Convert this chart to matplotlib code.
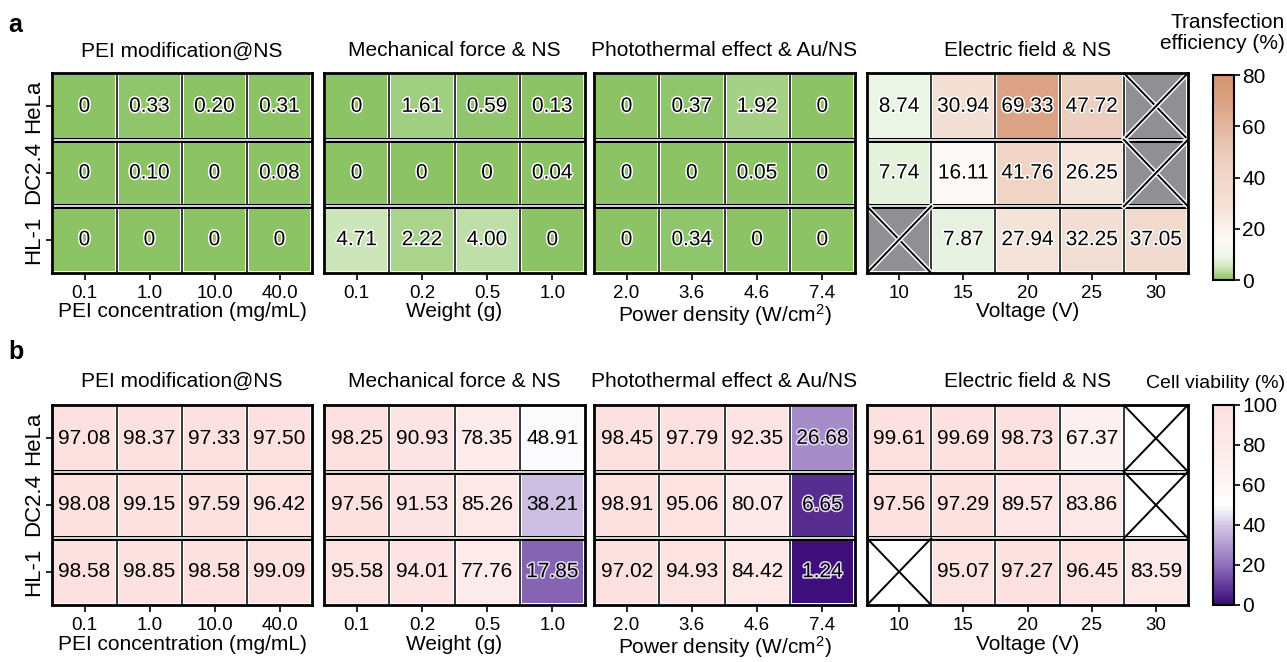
import numpy as np
import matplotlib
matplotlib.use('Agg')
import matplotlib.pyplot as plt
import matplotlib.patheffects as pe
from matplotlib.colors import LinearSegmentedColormap

matplotlib.rcParams['font.family'] = ['Liberation Sans', 'DejaVu Sans']
matplotlib.rcParams['mathtext.fontset'] = 'custom'
matplotlib.rcParams['mathtext.rm'] = 'Liberation Sans'
matplotlib.rcParams['mathtext.it'] = 'Liberation Sans'

nan = np.nan
cells = ['HeLa', 'DC2.4', 'HL-1']
titles = ['PEI modification@NS', 'Mechanical force & NS',
          'Photothermal effect & Au/NS', 'Electric field & NS']
xlabels = ['PEI concentration (mg/mL)', 'Weight (g)',
           'Power density (W/cm$^{2}$)', 'Voltage (V)']
xticks = [['0.1', '1.0', '10.0', '40.0'],
          ['0.1', '0.2', '0.5', '1.0'],
          ['2.0', '3.6', '4.6', '7.4'],
          ['10', '15', '20', '25', '30']]

# transfection efficiency (%)
te_pei = [[0, 0.33, 0.20, 0.31], [0, 0.10, 0, 0.08], [0, 0, 0, 0]]
te_mech = [[0, 1.61, 0.59, 0.13], [0, 0, 0, 0.04], [4.71, 2.22, 4.00, 0]]
te_photo = [[0, 0.37, 1.92, 0], [0, 0, 0.05, 0], [0, 0.34, 0, 0]]
te_elec = [[8.74, 30.94, 69.33, 47.72, nan],
           [7.74, 16.11, 41.76, 26.25, nan],
           [nan, 7.87, 27.94, 32.25, 37.05]]

# cell viability (%)
cv_pei = [[97.08, 98.37, 97.33, 97.50], [98.08, 99.15, 97.59, 96.42],
          [98.58, 98.85, 98.58, 99.09]]
cv_mech = [[98.25, 90.93, 78.35, 48.91], [97.56, 91.53, 85.26, 38.21],
           [95.58, 94.01, 77.76, 17.85]]
cv_photo = [[98.45, 97.79, 92.35, 26.68], [98.91, 95.06, 80.07, 6.65],
            [97.02, 94.93, 84.42, 1.24]]
cv_elec = [[99.61, 99.69, 98.73, 67.37, nan],
           [97.56, 97.29, 89.57, 83.86, nan],
           [nan, 95.07, 97.27, 96.45, 83.59]]

cmap_a = LinearSegmentedColormap.from_list('te', [
    (0.0, '#8cc465'), (0.06, '#cde6bb'), (0.11, '#eef6ea'), (0.2, '#fdf9f7'),
    (0.35, '#f5e2d8'), (0.6, '#edcfbf'), (0.87, '#dba283'), (1.0, '#d4946f')])
cmap_a.set_bad('#909094')
cmap_b = LinearSegmentedColormap.from_list('cv', [
    (0.0, '#3a0a78'), (0.2, '#8f70bb'), (0.4, '#d4c8e6'), (0.5, '#ffffff'),
    (0.7, '#fdeeee'), (1.0, '#fde0e0')])
cmap_b.set_bad('white')

fig = plt.figure(figsize=(12.87, 6.62), dpi=100)
W, H = 1287, 662
lefts = [52, 324, 594, 867]
widths = [260, 261, 261, 321]


def draw_row(datas, top_px, cmap, vmax, gray_x, title_pad):
    mesh = None
    for k, d in enumerate(datas):
        d = np.array(d, dtype=float)
        nr, nc = d.shape
        ax = fig.add_axes([lefts[k] / W, 1 - (top_px + 200) / H,
                           widths[k] / W, 200 / H])
        mesh = ax.pcolormesh(np.ma.masked_invalid(d), cmap=cmap, vmin=0,
                             vmax=vmax, edgecolors='white', linewidth=1.5)
        ax.set_xlim(0, nc)
        ax.set_ylim(nr, 0)
        for j in range(1, nc):
            ax.axvline(j, color='k', lw=1.1)
        for i in range(1, nr):
            ax.axhline(i, color='k', lw=3.6)
            ax.axhline(i, color='white', lw=1.2)
        for i in range(nr):
            for j in range(nc):
                v = d[i, j]
                if np.isnan(v):
                    kw = dict(color='k', lw=1.4)
                    if gray_x:
                        kw['path_effects'] = [pe.withStroke(linewidth=3.5, foreground='white')]
                    ax.plot([j, j + 1], [i, i + 1], **kw)
                    ax.plot([j, j + 1], [i + 1, i], **kw)
                    continue
                s = '0' if v == 0 else f'{v:.2f}'
                t = ax.text(j + 0.5, i + 0.5, s, ha='center', va='center',
                            fontsize=15, color='k')
                if gray_x or v < 35:
                    t.set_path_effects([pe.withStroke(linewidth=2.2,
                                                      foreground='white' if gray_x else '#e6dcf2')])
        for sp in ax.spines.values():
            sp.set_linewidth(2)
        ax.set_xticks(np.arange(nc) + 0.5)
        ax.set_xticklabels(xticks[k], fontsize=13.5)
        ax.tick_params(axis='x', length=5, width=1.2, pad=4)
        ax.set_xlabel(xlabels[k], fontsize=15, labelpad=0)
        if k == 0:
            ax.set_yticks(np.arange(nr) + 0.5)
            ax.set_yticklabels(cells, rotation=90, va='center', fontsize=16)
            ax.tick_params(axis='y', length=4, width=1.2, pad=2)
        else:
            ax.set_yticks([])
        ax.set_title(titles[k], fontsize=15, pad=title_pad)
    return mesh


m1 = draw_row([te_pei, te_mech, te_photo, te_elec], 73, cmap_a, 80, True, 12)
m2 = draw_row([cv_pei, cv_mech, cv_photo, cv_elec], 405, cmap_b, 100, False, 13)

cax1 = fig.add_axes([1213 / W, 1 - 280 / H, 21 / W, 205 / H])
cb1 = fig.colorbar(m1, cax=cax1, ticks=[0, 20, 40, 60, 80])
cax2 = fig.add_axes([1213 / W, 1 - 605 / H, 21 / W, 200 / H])
cb2 = fig.colorbar(m2, cax=cax2, ticks=[0, 20, 40, 60, 80, 100])
for cb in (cb1, cb2):
    cb.outline.set_linewidth(1.5)
    cb.ax.tick_params(labelsize=15, length=4, width=1.2, pad=2)

fig.text(1285 / W, 1 - 33 / H, 'Transfection\nefficiency (%)', ha='right',
         va='center', fontsize=15, linespacing=1.1)
fig.text(1285 / W, 1 - 383 / H, 'Cell viability (%)', ha='right',
         va='center', fontsize=14)
fig.text(8 / W, 1 - 25 / H, 'a', fontsize=18, fontweight='bold', va='center')
fig.text(8 / W, 1 - 352 / H, 'b', fontsize=18, fontweight='bold', va='center')

fig.savefig('out.png', dpi=100)
